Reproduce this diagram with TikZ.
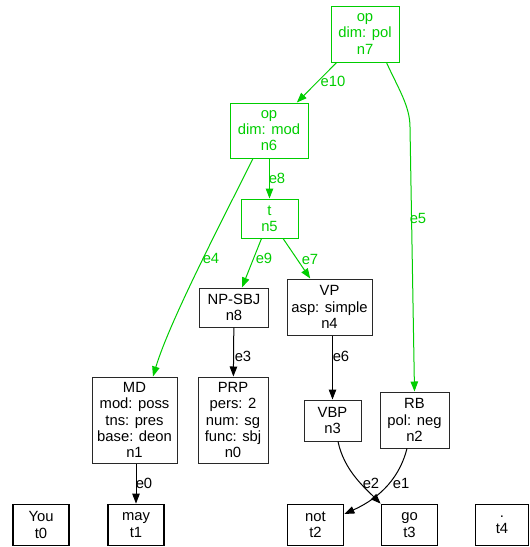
\documentclass[tikz,border=0pt]{standalone}
\usepackage{fontspec}
\setmainfont{Liberation Sans}
\usetikzlibrary{arrows.meta,calc}
\definecolor{gvgreen}{RGB}{0,205,0}
\definecolor{gvgray}{RGB}{40,40,40}
\begin{document}
\begin{tikzpicture}[x=1pt,y=-1pt,
  base/.style={rectangle, inner sep=0pt, align=center, font=\fontsize{14.8}{16.2}\selectfont},
  gnode/.style={base, draw=gvgreen, text=gvgreen, line width=1pt},
  bnode/.style={base, draw=gvgray, text=black, line width=1pt},
  tnode/.style={base, draw=black, text=black, line width=1.8pt, minimum width=56, minimum height=41},
  garrow/.style={draw=gvgreen, line width=1pt, -{Triangle[length=10pt,width=7.5pt]}},
  barrow/.style={draw=black, line width=1pt, -{Triangle[length=10pt,width=7.5pt]}},
  glbl/.style={base, text=gvgreen},
  blbl/.style={base, text=black}
]
\useasboundingbox (0,0) rectangle (530,547);

% nodes
\node[gnode, minimum width=68, minimum height=56] (n7) at (365,34) {op\\dim: pol\\n7};
\node[gnode, minimum width=78, minimum height=55] (n6) at (269,130.5) {op\\dim: mod\\n6};
\node[gnode, minimum width=57, minimum height=39] (n5) at (269.5,218.5) {t\\n5};
\node[bnode, minimum width=69, minimum height=39] (n8) at (234,307.5) {NP-SBJ\\n8};
\node[bnode, minimum width=85, minimum height=56] (n4) at (329.5,307) {VP\\asp: simple\\n4};
\node[bnode, minimum width=85, minimum height=86] (n1) at (134.5,420) {MD\\mod: poss\\tns: pres\\base: deon\\n1};
\node[bnode, minimum width=70, minimum height=86] (n0) at (233,420) {PRP\\pers: 2\\num: sg\\func: sbj\\n0};
\node[bnode, minimum width=57, minimum height=41] (n3) at (332.5,420.5) {VBP\\n3};
\node[bnode, minimum width=69, minimum height=56] (n2) at (414.5,420) {RB\\pol: neg\\n2};

\node[tnode] (t0) at (41,525) {You\\t0};
\node[tnode] (t1) at (136,525) {may\\t1};
\node[tnode] (t2) at (315.5,525) {not\\t2};
\node[tnode] (t3) at (409.5,525) {go\\t3};
\node[tnode, minimum width=53] (t4) at (502,525) {.\\t4};

% green edges
\draw[garrow] (n7) -- (n6);
\coordinate (e5bend) at (410,127);
\draw[garrow] (n7.-53) .. controls (398,88) and (410,106) .. (e5bend) -- (n2.north);
\draw[garrow] ($(n6.south)+(-16,0)$) .. controls (225,215) and (170,320) .. ($(n1.north)+(18.5,0)$);
\draw[garrow] (n6.south -| n5.north) -- (n5.north);
\draw[garrow] (n5) -- (n8);
\draw[garrow] (n5) -- (n4);

% black edges
\draw[barrow] (n8) -- (n0);
\draw[barrow] (n4.south -| n3.north) -- (n3.north);
\draw[barrow] (n1.south -| t1.north) -- (t1.north);
\draw[barrow] ($(n3.south)+(5.5,0)$) .. controls (344,470) and (364,487) .. (t3.north west);
\draw[barrow] ($(n2.south)+(-7.5,0)$) .. controls (400,476) and (382,497) .. ($(t2.east)+(0,-11)$);

% labels
\node[glbl] (le10) at (333,81) {e10};
\node[glbl] (le5) at (418,218) {e5};
\node[glbl] (le4) at (211,258) {e4};
\node[glbl] (le8) at (277,178) {e8};
\node[glbl] (le9) at (264,258) {e9};
\node[glbl] (le7) at (310,259) {e7};
\node[blbl] (le3) at (243,356) {e3};
\node[blbl] (le6) at (341,356) {e6};
\node[blbl] (le0) at (144,483) {e0};
\node[blbl] (le2) at (371,483) {e2};
\node[blbl] (le1) at (401,483) {e1};
\end{tikzpicture}
\end{document}
